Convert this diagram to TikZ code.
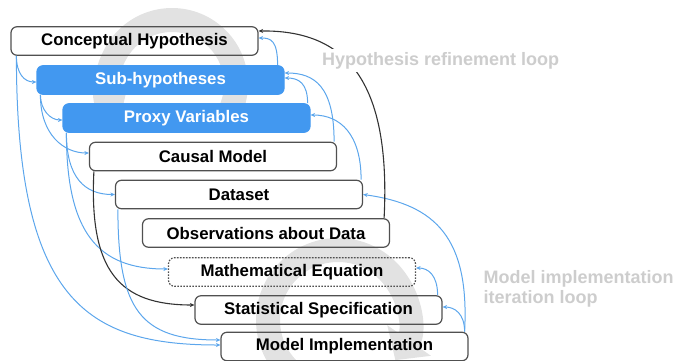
\documentclass[tikz,border=0pt]{standalone}
\usepackage{fontspec}
\setmainfont{Liberation Sans}
\usetikzlibrary{arrows.meta}
\definecolor{keyblue}{RGB}{66,152,240}
\definecolor{linkblue}{RGB}{92,166,236}
\definecolor{boxline}{RGB}{80,80,80}
\definecolor{loopgray}{RGB}{226,226,226}
\definecolor{labelgray}{RGB}{205,205,205}
\tikzset{
  stage/.style={draw=boxline, line width=1.2pt, rounded corners=6pt,
    minimum width=247pt, minimum height=28.5pt, inner sep=0pt,
    font=\fontsize{16.8}{19}\selectfont\bfseries},
  subgoal/.style={stage, draw=keyblue, fill=keyblue, text=white},
  tentative/.style={stage, dash pattern=on 1.6pt off 1.4pt},
  feed/.style={draw=linkblue, line width=1pt, ->},
  back/.style={draw=black!80, line width=1.1pt, ->},
  looplabel/.style={text=labelgray, font=\fontsize{18}{20}\selectfont\bfseries, align=left},
  loopicon/.style={draw=loopgray, line width=24pt}
}
\begin{document}
\begin{tikzpicture}[x=1pt,y=1pt,>={Stealth[length=4.5pt,width=4pt]}]
 \useasboundingbox (0,0) rectangle (680,-360);
 \draw[loopicon,-{Triangle[length=24pt,width=52pt]}] (172,-84) ++(-40:64) arc (-40:215:64);
 \draw[loopicon,-{Triangle[length=24pt,width=52pt]}] (338,-320) ++(230:70) arc (230:-35:70);

 \node[stage] (hyp) at (134.5,-41) {Conceptual Hypothesis};
 \node[subgoal] (subhyp) at (160.5,-80) {Sub-hypotheses};
 \node[subgoal] (proxy) at (186.5,-118) {Proxy Variables};
 \node[stage] (causal) at (213,-156.5) {Causal Model};
 \node[stage] (data) at (239,-194.5) {Dataset};
 \node[stage] (obs) at (266,-233) {Observations about Data};
 \node[tentative] (matheq) at (292,-272) {Mathematical Equation};
 \node[stage] (statspec) at (318.5,-310) {Statistical Specification};
 \node[stage] (modelimpl) at (344.5,-346.5) {Model Implementation};

 \draw[feed] ([xshift=6pt]hyp.south west) .. controls +(0,-18) and +(-12,0) .. ([yshift=-2pt]subhyp.west);
 \draw[feed] ([xshift=6pt]hyp.south west) .. controls +(0,-245) and +(-134,0) .. ([yshift=1.5pt]modelimpl.west);
 \draw[feed] ([xshift=4pt]subhyp.south west) .. controls +(0,-15) and +(-12,0) .. ([yshift=-2pt]proxy.west);
 \draw[feed] ([xshift=4pt]subhyp.south west) .. controls +(0,-40) and +(-25,0) .. ([yshift=3.5pt]causal.west);
 \draw[feed] ([xshift=4pt]proxy.south west) .. controls +(0,-45) and +(-30,0) .. (data.west);
 \draw[feed] ([xshift=4pt]proxy.south west) .. controls +(0,-100) and +(-70,0) .. ([yshift=3pt]matheq.west);
 \draw[back] ([xshift=5pt]causal.south west) .. controls +(-5,-100) and +(-75,0) .. ([yshift=5pt]statspec.west);
 \draw[feed] ([xshift=3pt]data.south west) .. controls +(0,-100) and +(-80,0) .. ([yshift=6.5pt]modelimpl.west);

 \draw[feed] ([xshift=-7pt]subhyp.north east) .. controls +(0,25) and +(12,0) .. ([yshift=3pt]hyp.east);
 \draw[feed] ([xshift=-3pt]proxy.north east) .. controls +(0,20) and +(14,0) .. ([yshift=2pt]subhyp.east);
 \draw[feed] ([xshift=-3pt]causal.north east) .. controls +(0,55) and +(30,0) .. ([yshift=7pt]subhyp.east);
 \draw[feed] ([xshift=-2pt]data.north east) .. controls +(0,45) and +(30,0) .. ([yshift=3pt]proxy.east);
 \draw[feed] ([xshift=-4pt]modelimpl.north east) .. controls +(5,93) and +(73,-10) .. (data.east);
 \draw[feed] ([xshift=-4pt]modelimpl.north east) .. controls +(0,18) and +(12,0) .. ([yshift=3pt]statspec.east);
 \draw[feed] ([xshift=-5pt]statspec.north east) .. controls +(0,20) and +(12,0) .. ([yshift=4pt]matheq.east);
 \draw[back] ([xshift=-6pt]obs.north east) .. controls +(7,138) and +(87,1) .. ([yshift=10pt]hyp.east);

 \node[looplabel, fill=white, anchor=base west, inner sep=3pt] (refine) at (319,-65) {Hypothesis refinement loop};
 \node[looplabel, anchor=west] (iterate) at (480,-289) {Model implementation\\iteration loop};
\end{tikzpicture}
\end{document}
